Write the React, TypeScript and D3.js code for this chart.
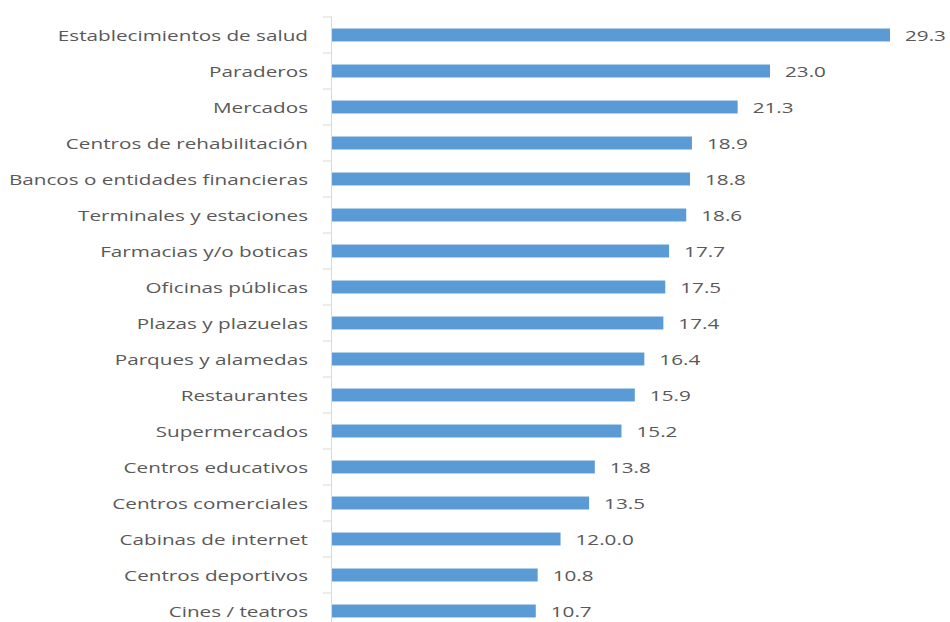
import React from "react";
import * as d3 from "d3";

const categories = [
  "Establecimientos de salud",
  "Paraderos",
  "Mercados",
  "Centros de rehabilitación",
  "Bancos o entidades financieras",
  "Terminales y estaciones",
  "Farmacias y/o boticas",
  "Oficinas públicas",
  "Plazas y plazuelas",
  "Parques y alamedas",
  "Restaurantes",
  "Supermercados",
  "Centros educativos",
  "Centros comerciales",
  "Cabinas de internet",
  "Centros deportivos",
  "Cines / teatros",
];
const values = [29.3, 23.0, 21.3, 18.9, 18.8, 18.6, 17.7, 17.5, 17.4, 16.4, 15.9, 15.2, 13.8, 13.5, 12.0, 10.8, 10.7];
const valueLabels = ["29.3", "23.0", "21.3", "18.9", "18.8", "18.6", "17.7", "17.5", "17.4", "16.4", "15.9", "15.2", "13.8", "13.5", "12.0.0", "10.8", "10.7"];

export default function App() {
  const W = 950, H = 622;
  const x0 = 332;
  const x = d3.scaleLinear().domain([0, 29.3]).range([x0, 890]);
  const y = d3.scaleBand<string>().domain(categories).range([17, 17 + 36 * 17]).paddingInner(0.64).paddingOuter(0.32);
  const step = y.step();
  const font = "'Open Sans', sans-serif";
  const sx = 1.38;
  return (
    <svg width={W} height={H} style={{ position: "absolute", left: 0, top: 0, background: "#fff" }}>
      <line x1={x0 - 0.5} x2={x0 - 0.5} y1={17} y2={H} stroke="#d9d9d9" strokeWidth={1} />
      {categories.map((c, i) => (
        <line key={"t" + i} x1={x0 - 9} x2={x0} y1={17 + i * step} y2={17 + i * step} stroke="#d9d9d9" />
      ))}
      {categories.map((c, i) => {
        const yc = (y(c) as number) + y.bandwidth() / 2;
        return (
          <g key={c}>
            <rect x={x0} y={y(c)} width={x(values[i]) - x0} height={y.bandwidth()} fill="#5B9BD5" />
            <text transform={`translate(308,${yc}) scale(${sx},1)`} textAnchor="end" dominantBaseline="central" fontFamily={font} fontSize={15} fill="#595959">{c}</text>
            <text transform={`translate(${x(values[i]) + 15},${yc}) scale(${sx},1)`} textAnchor="start" dominantBaseline="central" fontFamily={font} fontSize={15} fill="#595959">{valueLabels[i]}</text>
          </g>
        );
      })}
    </svg>
  );
}
